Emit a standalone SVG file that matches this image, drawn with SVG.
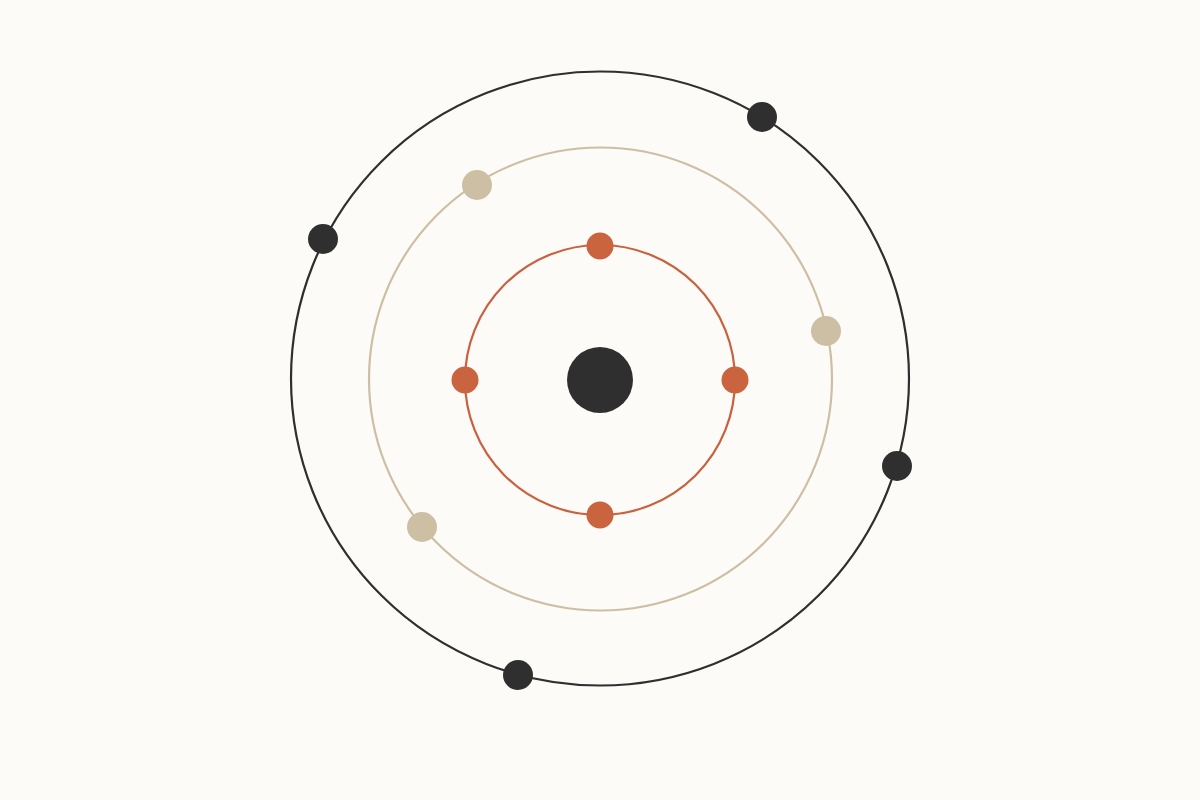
<svg xmlns="http://www.w3.org/2000/svg" width="1200" height="800" viewBox="0 0 1200 800">
<style>
.orbit{fill:none;stroke-width:2.2}
.o1{stroke:#c9603e}
.o2{stroke:#cdbfa4}
.o3{stroke:#2f2f2f}
.e1{fill:#c9643f}
.e2{fill:#cdbfa4}
.e3{fill:#2f2f2f}
</style>
<rect width="1200" height="800" fill="#fcfbf7"/>
<g id="orbits">
<ellipse class="orbit o3" cx="600" cy="378.5" rx="309" ry="307"/>
<circle class="orbit o2" cx="600.5" cy="379" r="231.5"/>
<circle class="orbit o1" cx="600" cy="380" r="135"/>
</g>
<g id="nucleus"><circle cx="600" cy="380" r="33" fill="#2f2f2f"/></g>
<g id="shell1">
<circle class="e1" cx="600" cy="246" r="13.5"/>
<circle class="e1" cx="735" cy="380" r="13.5"/>
<circle class="e1" cx="600" cy="515" r="13.5"/>
<circle class="e1" cx="465" cy="380" r="13.5"/>
</g>
<g id="shell2">
<circle class="e2" cx="477" cy="185" r="15"/>
<circle class="e2" cx="826" cy="331" r="15"/>
<circle class="e2" cx="422" cy="527" r="15"/>
</g>
<g id="shell3">
<circle class="e3" cx="762" cy="117" r="15"/>
<circle class="e3" cx="323" cy="239" r="15"/>
<circle class="e3" cx="897" cy="466" r="15"/>
<circle class="e3" cx="518" cy="675" r="15"/>
</g>
</svg>
